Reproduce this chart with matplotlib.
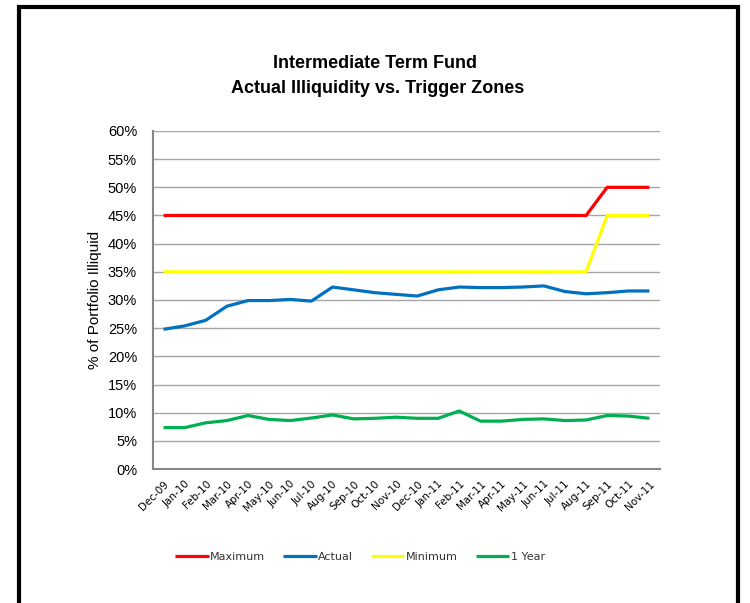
import matplotlib.pyplot as plt
from matplotlib.patches import Rectangle
from matplotlib.ticker import FuncFormatter

# --- data ---
months = ["Dec-09", "Jan-10", "Feb-10", "Mar-10", "Apr-10", "May-10", "Jun-10", "Jul-10",
          "Aug-10", "Sep-10", "Oct-10", "Nov-10", "Dec-10", "Jan-11", "Feb-11", "Mar-11",
          "Apr-11", "May-11", "Jun-11", "Jul-11", "Aug-11", "Sep-11", "Oct-11", "Nov-11"]
maximum = [45] * 21 + [50, 50, 50]
minimum = [35] * 21 + [45, 45, 45]
actual = [24.8, 25.4, 26.4, 28.9, 29.9, 29.9, 30.1, 29.8, 32.3, 31.8, 31.3, 31.0,
          30.7, 31.8, 32.3, 32.2, 32.2, 32.3, 32.5, 31.5, 31.1, 31.3, 31.6, 31.6]
one_year = [7.35, 7.35, 8.2, 8.6, 9.5, 8.8, 8.6, 9.05, 9.6, 8.9, 9.0, 9.2,
            9.0, 9.0, 10.3, 8.5, 8.5, 8.8, 8.9, 8.6, 8.7, 9.5, 9.4, 9.0]

series = [("Maximum", maximum, "#FF0000"),
          ("Actual", actual, "#0070C0"),
          ("Minimum", minimum, "#FFFF00"),
          ("1 Year", one_year, "#00B050")]

title_font = ["Liberation Sans Narrow", "Liberation Sans", "DejaVu Sans"]

fig = plt.figure(figsize=(7.5, 6.03), dpi=100)
ax = fig.add_axes([0.204, 0.2222, 0.676, 0.5606])

x = range(len(months))
for name, vals, col in series:
    ax.plot(x, vals, color=col, lw=2.3, label=name, solid_capstyle="butt")

ax.set_xlim(-0.5, len(months) - 0.5)
ax.set_ylim(0, 60)
ax.set_yticks(range(0, 61, 5))
ax.yaxis.set_major_formatter(FuncFormatter(lambda v, p: f"{int(v)}%"))
ax.grid(axis="y", color="#a6a6a6", lw=1)
ax.set_axisbelow(True)
for s in ["top", "right"]:
    ax.spines[s].set_visible(False)
for s in ["left", "bottom"]:
    ax.spines[s].set_color("#868686")
    ax.spines[s].set_linewidth(1.5)
ax.tick_params(axis="y", length=0, pad=11.5, labelsize=10.5)
for t in ax.get_yticklabels():
    t.set_family(title_font)
ax.set_xticks(list(x))
ax.set_xticklabels(months, rotation=45, ha="right", rotation_mode="anchor",
                   fontsize=7.5, family="DejaVu Sans")
ax.tick_params(axis="x", length=0, pad=7)

ax.set_ylabel("% of Portfolio Illiquid", fontsize=11, family=title_font, labelpad=4)

fig.text(0.5, 0.895, "Intermediate Term Fund", ha="center", va="center",
         fontsize=13, fontweight="bold", family=title_font)
fig.text(0.503, 0.853, "Actual Illiquidity vs. Trigger Zones", ha="center", va="center",
         fontsize=13, fontweight="bold", family=title_font)

leg = fig.legend(loc="center", bbox_to_anchor=(0.48, 0.076), ncol=4, frameon=False,
                 fontsize=8, handlelength=3.0, handletextpad=0.15, columnspacing=1.6)
for t in leg.get_texts():
    t.set_color("#333333")
    t.set_family("DejaVu Sans")

# outer black frame
fig.patches.append(Rectangle((19 / 750, -0.05), 719 / 750, 1.05 - 7 / 603,
                             transform=fig.transFigure, fill=False,
                             edgecolor="black", lw=3, figure=fig))

fig.savefig("out.png", dpi=100)
